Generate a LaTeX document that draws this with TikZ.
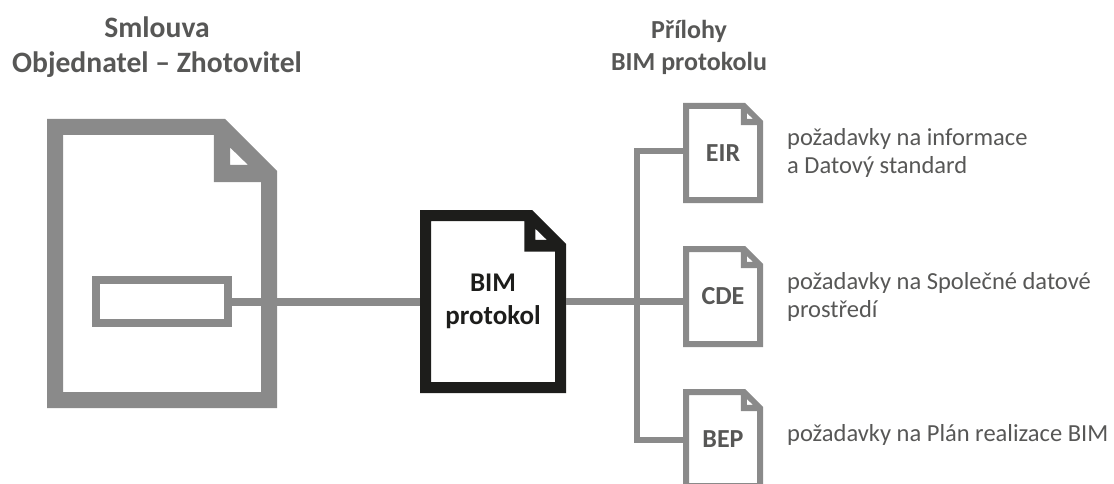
\documentclass[tikz,border=0pt]{standalone}
\usepackage{fontspec}
\setmainfont{Carlito}
\usetikzlibrary{calc}
\definecolor{sheetgray}{HTML}{8A8A8A}
\definecolor{sheetblack}{HTML}{1D1D1B}
\definecolor{textgray}{HTML}{575756}
\tikzset{
	sheet/.style={inner sep=0pt,outer sep=0pt,align=center},
	link/.style={draw=sheetgray,line width=#1},
	heading/.style={inner sep=0pt,align=center,text=textgray,font=\fontsize{29.6}{35}\selectfont\bfseries},
	note/.style={inner sep=0pt,anchor=west,align=left,text=textgray,font=\fontsize{24.5}{28}\selectfont}
}
% name, colour, stroke, fold
\newcommand{\sheetframe}[4]{
	\fill[#2,even odd rule]
		(#1.north west) -- ($(#1.north east)+(-#4,0)$) -- ($(#1.north east)+(0,#4)$)
		-- (#1.south east) -- (#1.south west) -- cycle
		($(#1.north west)+(#3,#3)$) -- ($(#1.north east)+(-#4-0.7*#3,#3)$)
		-- ($(#1.north east)+(-#4-0.7*#3,#4+0.7*#3)$) -- ($(#1.north east)+(-#3,#4+0.7*#3)$)
		-- ($(#1.south east)+(-#3,-#3)$) -- ($(#1.south west)+(#3,-#3)$) -- cycle
		($(#1.north east)+(-0.9*#4,0.55*#4)$) -- ($(#1.north east)+(-0.9*#4,0.88*#4)$)
		-- ($(#1.north east)+(-0.56*#4,0.88*#4)$) -- cycle;
}
\begin{document}
\begin{tikzpicture}[x=1pt,y=-1pt]
	\path[use as bounding box,clip] (0,0) rectangle (1114,484);

	\node[heading] (contract) at (157,47) {Smlouva\\Objednatel – Zhotovitel};
	\node[heading,font=\fontsize{26}{32}\selectfont\bfseries] (annex) at (689,47.5) {Přílohy\\BIM protokolu};

	\node[sheet,minimum width=230pt,minimum height=289pt] (main) at (162,263.5) {};
	\node[draw=sheetgray,line width=8pt,inner sep=0pt,minimum width=132pt,minimum height=43pt] (field) at (162,301.5) {};
	\node[sheet,minimum width=146pt,minimum height=183pt,text=sheetblack,font=\fontsize{27}{33}\selectfont\bfseries] (bim) at (493,301.5) {BIM\\protokol};
	\node[sheet,minimum width=80pt,minimum height=100pt,text=textgray,font=\fontsize{26}{26}\selectfont\bfseries] (eir) at (723,153) {EIR};
	\node[sheet,minimum width=80pt,minimum height=101pt,text=textgray,font=\fontsize{26}{26}\selectfont\bfseries] (cde) at (723,296.5) {\raisebox{-2.5pt}{CDE}};
	\node[sheet,minimum width=80pt,minimum height=100pt,text=textgray,font=\fontsize{26}{26}\selectfont\bfseries] (bep) at (723,439) {\raisebox{-3pt}{BEP}};

	\sheetframe{main}{sheetgray}{16}{52}
	\sheetframe{bim}{sheetblack}{11}{34}
	\sheetframe{eir}{sheetgray}{6}{18}
	\sheetframe{cde}{sheetgray}{6}{18}
	\sheetframe{bep}{sheetgray}{6}{18}

	\coordinate (trunk) at (637,301.5);
	\draw[link=8pt] (field.east) -- (bim.west);
	\draw[link=7pt] (bim.east) -- (bim.east -| cde.west);
	\draw[link=6pt] ([yshift=2pt]eir.west) -| (trunk);
	\draw[link=6pt] ([yshift=-1pt]bep.west) -| (trunk);

	\node[note] (eirnote) at (787,153) {požadavky na informace\\a Datový standard};
	\node[note] (cdenote) at (787,297) {požadavky na Společné datové\\prostředí};
	\node[note] (bepnote) at (787,435) {požadavky na Plán realizace BIM};
\end{tikzpicture}
\end{document}
